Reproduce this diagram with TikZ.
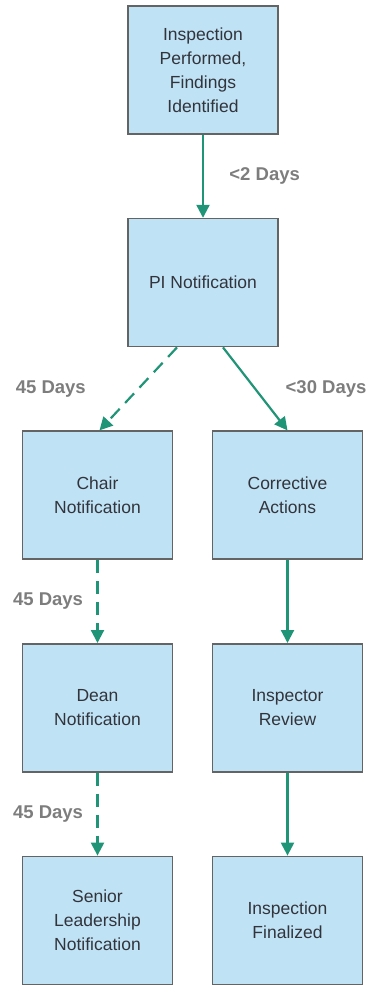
\documentclass[tikz,border=0pt]{standalone}
\usepackage{fontspec}
\setmainfont{Liberation Sans}
\usepackage{tikz}
\usetikzlibrary{arrows.meta,positioning}
\definecolor{boxblue}{RGB}{192,226,245}
\definecolor{boxline}{RGB}{100,100,100}
\definecolor{arrowteal}{RGB}{32,148,118}
\definecolor{daygray}{RGB}{125,125,125}
\definecolor{textgray}{RGB}{50,52,60}

\begin{document}
\begin{tikzpicture}[
	x=1pt, y=1pt,
	node distance=83pt,
	stepbox/.style={
		rectangle,
		draw=boxline,
		line width=1.6pt,
		fill=boxblue,
		text=textgray,
		align=center,
		minimum width=150pt,
		minimum height=128pt,
		font=\fontsize{17.5}{24}\selectfont
		},
	flow/.style={
		draw=arrowteal,
		line width=2.2pt,
		-{Triangle[length=13pt,width=13pt]}
		},
	later/.style={
		flow,
		dash pattern=on 13pt off 8pt
		},
	days/.style={
		text=daygray,
		font=\fontsize{18.5}{22}\selectfont\bfseries
	}
]
\useasboundingbox (0,0) rectangle (373,-988);

% Boxes
\node [stepbox] (Inspection) at (203,-70) {Inspection\\Performed,\\Findings\\Identified};
\node [stepbox, below=of Inspection] (PI) {PI Notification};
\node [stepbox, below=of PI, xshift=-105.5pt] (Chair) {Chair\\Notification};
\node [stepbox, below=of PI, xshift=84.5pt] (Corrective) {Corrective\\Actions};
\node [stepbox, below=of Chair] (Dean) {Dean\\Notification};
\node [stepbox, below=of Corrective] (Review) {Inspector\\Review};
\node [stepbox, below=of Dean] (Senior) {Senior\\Leadership\\Notification};
\node [stepbox, below=of Review] (Finalized) {Inspection\\Finalized};

% Arrows
\draw [flow] (Inspection) -- node [days, right=22pt] {<2 Days} (PI);
\draw [later] ([xshift=-26pt]PI.south) -- node [days, left=48pt] {45 Days} ([xshift=2pt]Chair.north);
\draw [flow] ([xshift=20pt]PI.south) -- node [days, right=26pt] {<30 Days} (Corrective.north);
\draw [later] (Chair) -- node [days, left=10pt] {45 Days} (Dean);
\draw [later] (Dean) -- node [days, left=10pt] {45 Days} (Senior);
\draw [flow] (Corrective) -- (Review);
\draw [flow] (Review) -- (Finalized);

\end{tikzpicture}
\end{document}
